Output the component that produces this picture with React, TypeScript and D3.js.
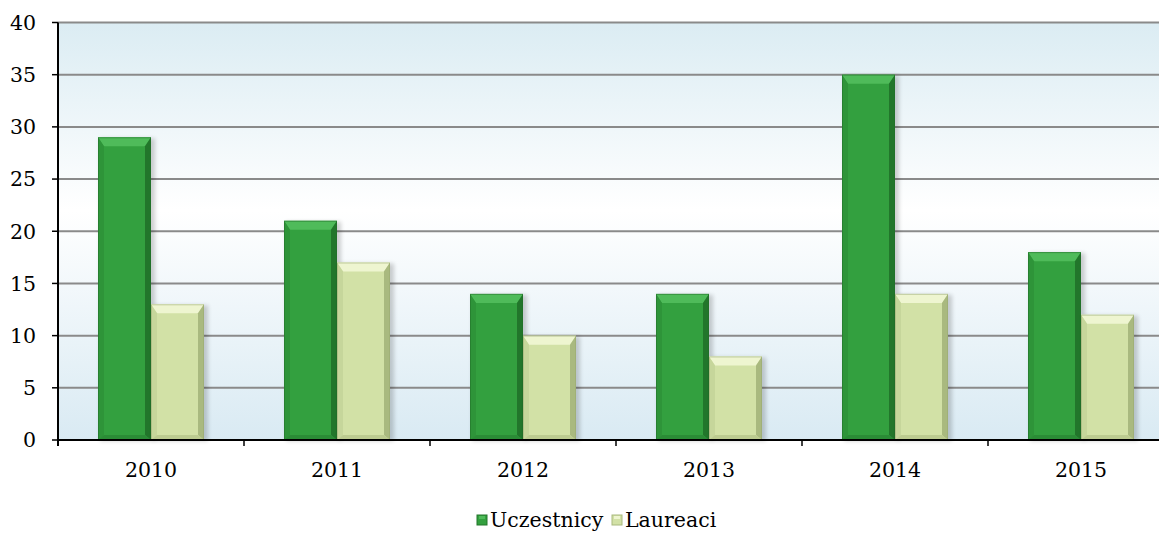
import React from "react";
import * as d3 from "d3";

const categories = ["2010", "2011", "2012", "2013", "2014", "2015"];
const uczestnicy = [29, 21, 14, 14, 35, 18];
const laureaci = [13, 17, 10, 8, 14, 12];
const seriesNames = ["Uczestnicy", "Laureaci"];
const yTicks = [0, 5, 10, 15, 20, 25, 30, 35, 40];

const W = 1159;
const H = 534;
const left = 58;
const top = 22.5;
const bottom = 440;
const bandW = 186;

const palettes = [
  { body: "#33a03f", topB: "#4fbb5a", leftB: "#2e9439", rightB: "#22762b", botB: "#2b8c36", edge: "#1f6b27" },
  { body: "#d2e1a6", topB: "#eef5d0", leftB: "#c6d69b", rightB: "#a9b97f", botB: "#bccb90", edge: "#98a870" },
];

function Bar({ x, y, w, h, p }: any) {
  const tb = Math.min(9, h / 2);
  const sb = 6;
  const bb = Math.min(5, h / 3);
  const x0 = x, x1 = x + w, y0 = y, y1 = y + h;
  const pts = (a: number[][]) => a.map((q) => q.join(",")).join(" ");
  return (
    <g>
      <rect x={x + 2} y={y + 1} width={w + 2} height={h} fill="#000" opacity={0.18} filter="url(#shadow)" />
      <rect x={x0} y={y0} width={w} height={h} fill={p.body} />
      <polygon points={pts([[x0, y0], [x1, y0], [x1 - sb, y0 + tb], [x0 + sb, y0 + tb]])} fill={p.topB} />
      <polygon points={pts([[x0, y0], [x0 + sb, y0 + tb], [x0 + sb, y1 - bb], [x0, y1]])} fill={p.leftB} />
      <polygon points={pts([[x1, y0], [x1 - sb, y0 + tb], [x1 - sb, y1 - bb], [x1, y1]])} fill={p.rightB} />
      <polygon points={pts([[x0, y1], [x0 + sb, y1 - bb], [x1 - sb, y1 - bb], [x1, y1]])} fill={p.botB} />
      <rect x={x0 + 0.5} y={y0 + 0.5} width={w - 1} height={h - 1} fill="none" stroke={p.edge} strokeOpacity={0.5} />
    </g>
  );
}

export default function App() {
  const y = d3.scaleLinear().domain([0, 40]).range([bottom, top]);
  const x = d3.scaleBand().domain(categories).range([left, left + bandW * categories.length]).paddingInner(0).paddingOuter(0);
  const barW = 53;
  const font = "DejaVu Serif";
  const fs = 20.5;
  const series = [uczestnicy, laureaci];

  return (
    <svg width={W} height={H} style={{ position: "absolute", left: 0, top: 0, background: "#fff" }}>
      <defs>
        <linearGradient id="bg" x1="0" y1="0" x2="0" y2="1">
          <stop offset="0" stopColor="#dbecf3" />
          <stop offset="0.45" stopColor="#ffffff" />
          <stop offset="1" stopColor="#d9eaf3" />
        </linearGradient>
        <filter id="shadow" x="-20%" y="-20%" width="140%" height="140%">
          <feGaussianBlur stdDeviation="2" />
        </filter>
      </defs>
      <rect x={left} y={top} width={W - left} height={bottom - top} fill="url(#bg)" />
      {yTicks.map((t) => (
        <g key={t}>
          {t > 0 && <line x1={left} x2={W} y1={y(t)} y2={y(t)} stroke="#8a8a8a" strokeWidth={2} />}
          <line x1={left - 6} x2={left} y1={y(t)} y2={y(t)} stroke="#000" strokeWidth={1.5} />
          <text x={left - 22} y={y(t)} dy="0.36em" textAnchor="end" fontFamily={font} fontSize={fs} fill="#000">
            {t}
          </text>
        </g>
      ))}
      {categories.map((c, i) => (
        <g key={c}>
          {series.map((s, j) => {
            const cx = (x(c) as number) + x.bandwidth() / 2;
            const bx = cx - barW + j * barW;
            return <Bar key={j} x={bx} y={y(s[i])} w={barW} h={bottom - y(s[i])} p={palettes[j]} />;
          })}
        </g>
      ))}
      <line x1={left} x2={W} y1={bottom} y2={bottom} stroke="#000" strokeWidth={2} />
      <line x1={left} x2={left} y1={top} y2={bottom + 6} stroke="#000" strokeWidth={2} />
      {categories.map((c, i) => (
        <g key={c}>
          {i > 0 && <line x1={x(c)} x2={x(c)} y1={bottom} y2={bottom + 6} stroke="#000" strokeWidth={1.5} />}
          <text x={(x(c) as number) + x.bandwidth() / 2} y={470} dy="0.36em" textAnchor="middle" fontFamily={font} fontSize={fs} fill="#000">
            {c}
          </text>
        </g>
      ))}
      {[{ xs: 477, xt: 490 }, { xs: 612, xt: 625 }].map((l, j) => (
        <g key={j}>
          <rect x={l.xs} y={515} width={10} height={10} fill={palettes[j].body} stroke={palettes[j].rightB} strokeWidth={1} />
          <rect x={l.xs + 2} y={516} width={6} height={3} fill={palettes[j].topB} />
          <text x={l.xt} y={520} dy="0.36em" fontFamily={font} fontSize={fs} fill="#000">
            {seriesNames[j]}
          </text>
        </g>
      ))}
    </svg>
  );
}
